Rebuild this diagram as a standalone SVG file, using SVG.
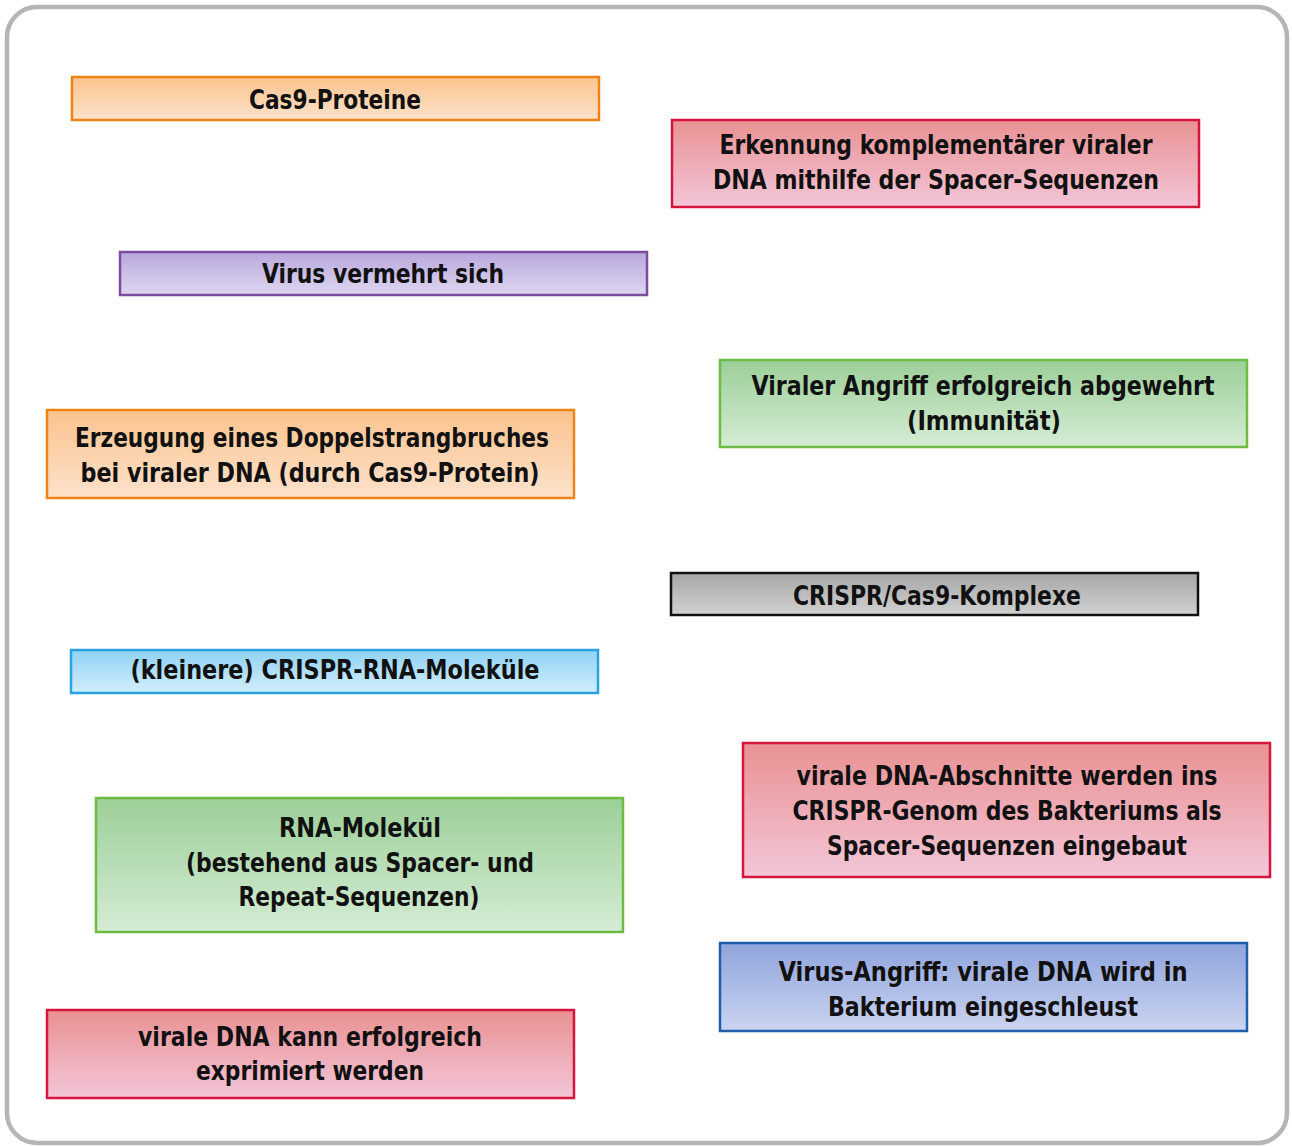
<svg xmlns="http://www.w3.org/2000/svg" width="1292" height="1147" viewBox="0 0 1292 1147">
<defs>
<linearGradient id="gO" x1="0" y1="0" x2="0" y2="1"><stop offset="0" stop-color="#fbc38e"/><stop offset="1" stop-color="#fde2cb"/></linearGradient>
<linearGradient id="gR" x1="0" y1="0" x2="0" y2="1"><stop offset="0" stop-color="#e99192"/><stop offset="1" stop-color="#f3c6d8"/></linearGradient>
<linearGradient id="gP" x1="0" y1="0" x2="0" y2="1"><stop offset="0" stop-color="#b8a7dc"/><stop offset="1" stop-color="#ded6f0"/></linearGradient>
<linearGradient id="gG" x1="0" y1="0" x2="0" y2="1"><stop offset="0" stop-color="#9ccf98"/><stop offset="1" stop-color="#d5ecd5"/></linearGradient>
<linearGradient id="gK" x1="0" y1="0" x2="0" y2="1"><stop offset="0" stop-color="#a6a6a6"/><stop offset="1" stop-color="#d2d2d2"/></linearGradient>
<linearGradient id="gC" x1="0" y1="0" x2="0" y2="1"><stop offset="0" stop-color="#8ed2f5"/><stop offset="1" stop-color="#d3eefc"/></linearGradient>
<linearGradient id="gB" x1="0" y1="0" x2="0" y2="1"><stop offset="0" stop-color="#8fa4dc"/><stop offset="1" stop-color="#cbd4f1"/></linearGradient>
</defs>
<style>
text{font-family:"DejaVu Sans Condensed","DejaVu Sans","Liberation Sans",sans-serif;font-weight:bold;font-size:26px;fill:#111;text-anchor:middle}
.b{stroke-width:2.5}
.o{fill:url(#gO);stroke:#ee8216}
.r{fill:url(#gR);stroke:#d5153d}
.p{fill:url(#gP);stroke:#7a4d9e}
.g{fill:url(#gG);stroke:#6dbb43}
.k{fill:url(#gK);stroke:#111}
.c{fill:url(#gC);stroke:#29a3df}
.u{fill:url(#gB);stroke:#1e5ea9}
</style>
<rect x="7" y="7" width="1280" height="1136" rx="30" fill="#fff" stroke="#b5b5b5" stroke-width="4.5"/>
<g id="connectors"/>
<g id="n1"><rect class="b o" x="72" y="77" width="527" height="43"/><text x="335" y="109" textLength="172" lengthAdjust="spacingAndGlyphs">Cas9-Proteine</text></g>
<g id="n2"><rect class="b r" x="672" y="120" width="527" height="87"/><text x="936" y="154" textLength="433" lengthAdjust="spacingAndGlyphs">Erkennung komplementärer viraler</text><text x="936" y="189" textLength="446" lengthAdjust="spacingAndGlyphs">DNA mithilfe der Spacer-Sequenzen</text></g>
<g id="n3"><rect class="b p" x="120" y="252" width="527" height="43"/><text x="383" y="283" textLength="242" lengthAdjust="spacingAndGlyphs">Virus vermehrt sich</text></g>
<g id="n4"><rect class="b g" x="720" y="360" width="527" height="87"/><text x="983" y="395" textLength="463" lengthAdjust="spacingAndGlyphs">Viraler Angriff erfolgreich abgewehrt</text><text x="984" y="430" textLength="154" lengthAdjust="spacingAndGlyphs">(Immunität)</text></g>
<g id="n5"><rect class="b o" x="47" y="410" width="527" height="88"/><text x="312" y="447" textLength="474" lengthAdjust="spacingAndGlyphs">Erzeugung eines Doppelstrangbruches</text><text x="310" y="482" textLength="459" lengthAdjust="spacingAndGlyphs">bei viraler DNA (durch Cas9-Protein)</text></g>
<g id="n6"><rect class="b k" x="671" y="573" width="527" height="42"/><text x="937" y="605" textLength="288" lengthAdjust="spacingAndGlyphs">CRISPR/Cas9-Komplexe</text></g>
<g id="n7"><rect class="b c" x="71" y="650" width="527" height="43"/><text x="335" y="679" textLength="409" lengthAdjust="spacingAndGlyphs">(kleinere) CRISPR-RNA-Moleküle</text></g>
<g id="n8"><rect class="b r" x="743" y="743" width="527" height="134"/><text x="1007" y="785" textLength="421" lengthAdjust="spacingAndGlyphs">virale DNA-Abschnitte werden ins</text><text x="1007" y="820" textLength="429" lengthAdjust="spacingAndGlyphs">CRISPR-Genom des Bakteriums als</text><text x="1007" y="855" textLength="360" lengthAdjust="spacingAndGlyphs">Spacer-Sequenzen eingebaut</text></g>
<g id="n9"><rect class="b g" x="96" y="798" width="527" height="134"/><text x="360" y="837" textLength="162" lengthAdjust="spacingAndGlyphs">RNA-Molekül</text><text x="360" y="872" textLength="348" lengthAdjust="spacingAndGlyphs">(bestehend aus Spacer- und</text><text x="359" y="906" textLength="241" lengthAdjust="spacingAndGlyphs">Repeat-Sequenzen)</text></g>
<g id="n10"><rect class="b u" x="720" y="943" width="527" height="88"/><text x="983" y="981" textLength="409" lengthAdjust="spacingAndGlyphs">Virus-Angriff: virale DNA wird in</text><text x="983" y="1016" textLength="310" lengthAdjust="spacingAndGlyphs">Bakterium eingeschleust</text></g>
<g id="n11"><rect class="b r" x="47" y="1010" width="527" height="88"/><text x="310" y="1046" textLength="344" lengthAdjust="spacingAndGlyphs">virale DNA kann erfolgreich</text><text x="310" y="1080" textLength="228" lengthAdjust="spacingAndGlyphs">exprimiert werden</text></g>
</svg>
